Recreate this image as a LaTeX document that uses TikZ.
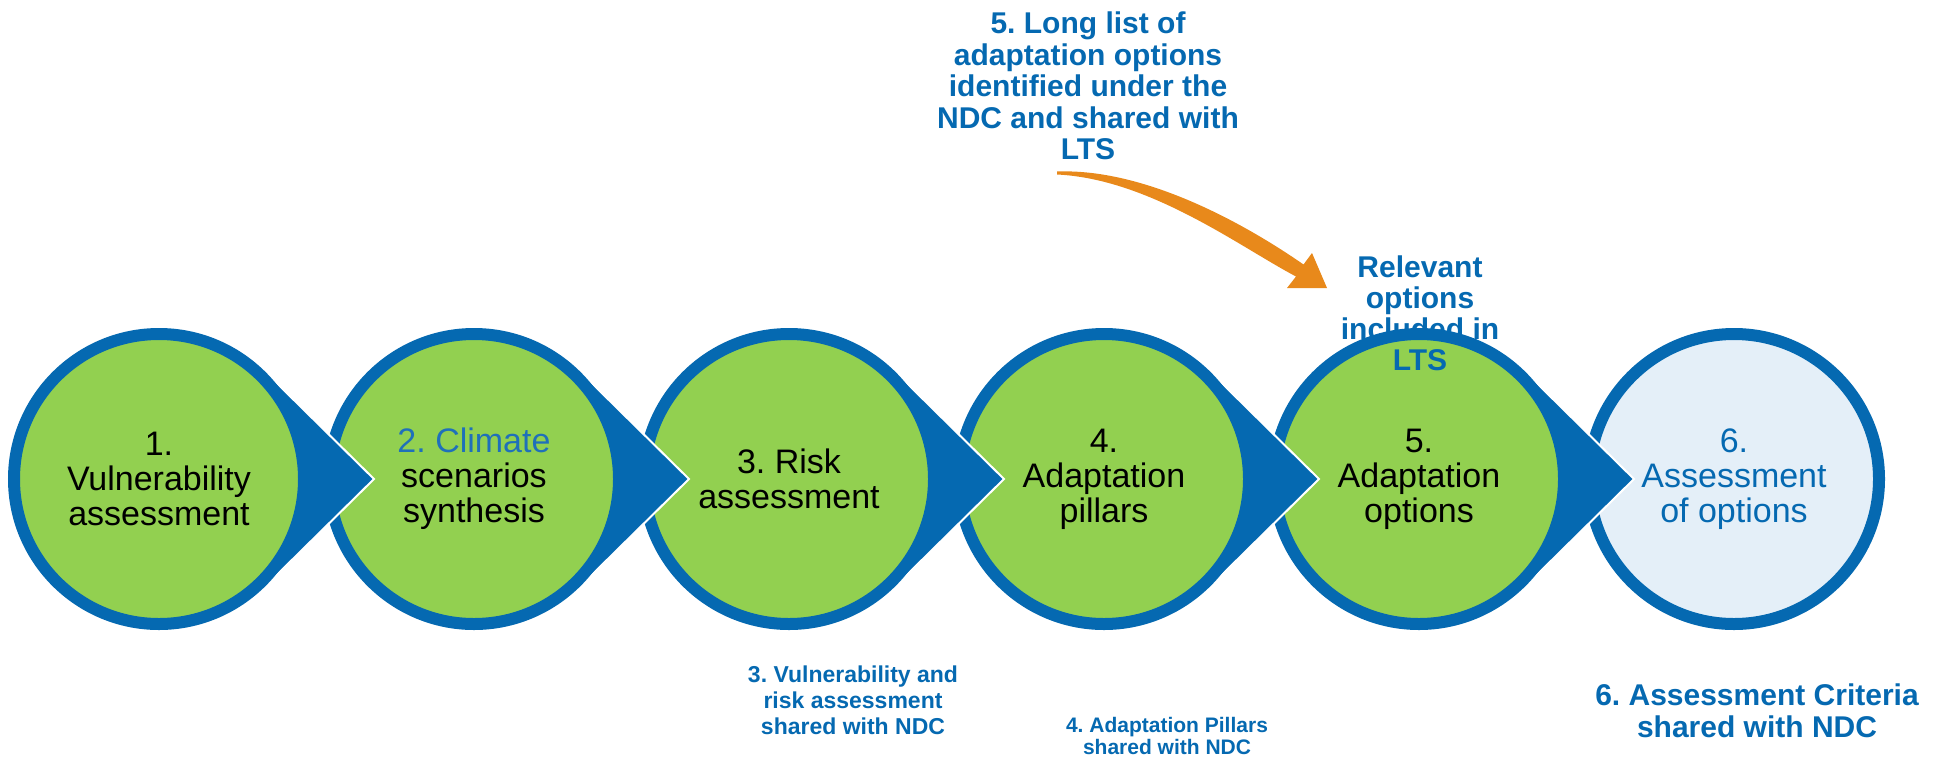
\documentclass[tikz,border=0pt]{standalone}
\usepackage{fontspec}
\setmainfont{Liberation Sans}
\usetikzlibrary{calc}
\frenchspacing

\definecolor{stepblue}{HTML}{0569B1}
\definecolor{titleblue}{HTML}{1F70BA}
\definecolor{stepgreen}{HTML}{92D050}
\definecolor{lastfill}{HTML}{E4EFF8}
\definecolor{flowarrow}{HTML}{E8891B}

\begin{document}
\begin{tikzpicture}[
        x=1pt, y=-1pt,
        stepnode/.style={
            circle, minimum size=290pt, inner sep=0pt,
            fill=stepgreen, draw=stepblue, line width=12pt,
            align=center, text=black,
            font=\fontsize{34}{35}\selectfont,
          },
        laststep/.style={stepnode, fill=lastfill, text=stepblue},
        steptip/.style={fill=stepblue, draw=white, line width=2pt},
        sharenote/.style={align=center, text=stepblue},
        ]
        \useasboundingbox (0,0) rectangle (1946,756);
        \coordinate (c1) at (159,479);
        \coordinate (c2) at (474,479);
        \coordinate (c3) at (789,479);
        \coordinate (c4) at (1104,479);
        \coordinate (c5) at (1419,479);
        \coordinate (c6) at (1734,479);

        \node[laststep] (s6) at (c6) {6.\\Assessment\\of options};
        \fill[steptip] ($(c5)+(215,0)$) -- ($(c5)+(45.4:151)$) -- ($(c5)+(-45.4:151)$) -- cycle;
        \node[stepnode] (s5) at (c5) {5.\\Adaptation\\options};
        \fill[steptip] ($(c4)+(215,0)$) -- ($(c4)+(45.4:151)$) -- ($(c4)+(-45.4:151)$) -- cycle;
        \node[stepnode] (s4) at (c4) {4.\\Adaptation\\pillars};
        \fill[steptip] ($(c3)+(215,0)$) -- ($(c3)+(45.4:151)$) -- ($(c3)+(-45.4:151)$) -- cycle;
        \node[stepnode] (s3) at (c3) {3. Risk\\assessment};
        \fill[steptip] ($(c2)+(215,0)$) -- ($(c2)+(45.4:151)$) -- ($(c2)+(-45.4:151)$) -- cycle;
        \node[stepnode] (s2) at (c2) {\textcolor{titleblue}{2. Climate}\\scenarios\\synthesis};
        \fill[steptip] ($(c1)+(215,0)$) -- ($(c1)+(45.4:151)$) -- ($(c1)+(-45.4:151)$) -- cycle;
        \node[stepnode] (s1) at (c1) {1.\\Vulnerability\\assessment};

        \node[sharenote, font=\bfseries\fontsize{30}{31.5}\selectfont] (longlist) at (1088,86)
            {5. Long list of\\adaptation options\\identified under the\\NDC and shared with\\LTS};
        \node[sharenote, font=\bfseries\fontsize{30}{31}\selectfont] (relevant) at (1420,313)
            {Relevant\\options\\included in\\LTS};
        \node[sharenote, font=\bfseries\fontsize{23}{26}\selectfont] (riskshare) at (853,700)
            {3. Vulnerability and\\risk assessment\\shared with NDC};
        \node[sharenote, font=\bfseries\fontsize{21}{22}\selectfont] (pillarshare) at (1167,736)
            {4. Adaptation Pillars\\shared with NDC};
        \node[sharenote, font=\bfseries\fontsize{30}{32}\selectfont] (criteria) at (1757,711)
            {6. Assessment Criteria\\shared with NDC};

        \fill[flowarrow] (1057,171.5) .. controls (1150,168) and (1254,230) .. (1303.5,264.5)
            -- (1312,253) -- (1327,288) -- (1287,288) -- (1296,276.5)
            .. controls (1240,247) and (1150,179) .. (1057,174.5) -- cycle;
    \end{tikzpicture}
\end{document}
